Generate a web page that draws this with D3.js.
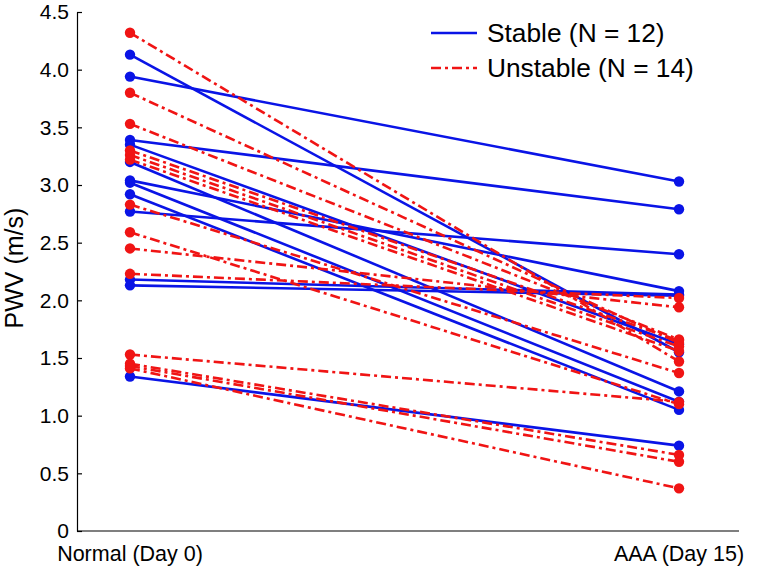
<!DOCTYPE html>
<html>
<head>
<meta charset="utf-8">
<script src="https://cdn.jsdelivr.net/npm/d3@7"></script>
<style>
  body { margin: 0; background: #fff; }
  svg { display: block; }
  text { font-family: "Liberation Sans", Arial, Helvetica, sans-serif; }
</style>
</head>
<body>
<svg id="chart" width="760" height="571"></svg>
<script>
// ---- data ----
const categories = ["Normal (Day 0)", "AAA (Day 15)"];
const yTicks = [0, 0.5, 1, 1.5, 2, 2.5, 3, 3.5, 4, 4.5];
const yTickLabels = ["0", "0.5", "1.0", "1.5", "2.0", "2.5", "3.0", "3.5", "4.0", "4.5"];
const stableDay0  = [4.13, 3.94, 3.39, 3.35, 3.20, 3.04, 3.02, 2.92, 2.77, 2.18, 2.13, 1.34];
const stableDay15 = [1.55, 3.03, 2.79, 1.62, 1.21, 2.08, 1.12, 1.05, 2.40, 2.05, 2.04, 0.74];
const unstableDay0  = [4.32, 3.80, 3.53, 3.30, 3.26, 3.22, 2.83, 2.59, 2.45, 2.23, 1.53, 1.45, 1.43, 1.41];
const unstableDay15 = [1.47, 1.63, 1.66, 1.65, 1.60, 1.56, 1.37, 1.10, 1.94, 2.02, 1.12, 0.66, 0.60, 0.37];
const legendLabels = ["Stable (N = 12)", "Unstable (N = 14)"];

// ---- layout ----
const svg = d3.select("#chart");
const blue = "#0a14e6";
const red = "#f01414";
const x = d3.scalePoint().domain(categories).range([130, 679]);
const y = d3.scaleLinear().domain([0, 4.5]).range([531, 12]);

// axes
const yAxis = d3.axisLeft(y).tickValues(yTicks)
  .tickFormat((d, i) => yTickLabels[i]).tickSizeInner(-5).tickSizeOuter(0).tickPadding(8);
const gy = svg.append("g").attr("transform", "translate(77,0)").call(yAxis);
gy.selectAll("text").attr("font-size", 21).attr("fill", "#000");
gy.select(".domain").attr("stroke", "#000").attr("stroke-width", 1.2);
gy.selectAll(".tick line").attr("stroke", "#000").attr("stroke-width", 1.2);

svg.append("line").attr("x1", 77).attr("x2", 739).attr("y1", y(0)).attr("y2", y(0))
  .attr("stroke", "#000").attr("stroke-width", 1.2);

categories.forEach(c => {
  svg.append("text").attr("x", x(c)).attr("y", 561).attr("text-anchor", "middle")
    .attr("font-size", 21.5).attr("fill", "#000").text(c);
});

svg.append("text").attr("transform", `translate(23,${y(2.28)}) rotate(-90)`)
  .attr("text-anchor", "middle").attr("font-size", 25).attr("fill", "#000").text("PWV (m/s)");

// series
function drawSeries(a, b, color, dash) {
  const pairs = a.map((v, i) => [v, b[i]]);
  const line = d3.line().x((d, i) => x(categories[i])).y(d => y(d));
  svg.append("g").selectAll("path").data(pairs).join("path")
    .attr("d", d => line(d)).attr("fill", "none").attr("stroke", color)
    .attr("stroke-width", 2.6).attr("stroke-dasharray", dash);
  const pts = [];
  pairs.forEach(p => { pts.push([categories[0], p[0]]); pts.push([categories[1], p[1]]); });
  svg.append("g").selectAll("circle").data(pts).join("circle")
    .attr("cx", d => x(d[0])).attr("cy", d => y(d[1])).attr("r", 5.2).attr("fill", color);
}
drawSeries(stableDay0, stableDay15, blue, null);
drawSeries(unstableDay0, unstableDay15, red, "10,4,3,4");

// legend
const lg = svg.append("g");
[[blue, null], [red, "10,4,3,4"]].forEach((s, i) => {
  const ly = 33 + i * 35;
  lg.append("line").attr("x1", 431).attr("x2", 477).attr("y1", ly).attr("y2", ly)
    .attr("stroke", s[0]).attr("stroke-width", 2.6).attr("stroke-dasharray", s[1]);
  lg.append("text").attr("x", 487).attr("y", ly + 9).attr("font-size", 26.3)
    .attr("fill", "#000").text(legendLabels[i]);
});
</script>
</body>
</html>
